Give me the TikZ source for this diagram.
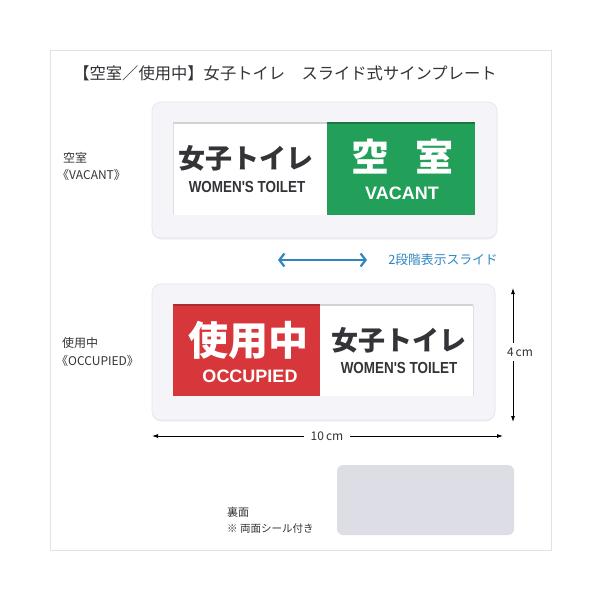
\documentclass[tikz,border=0pt]{standalone}
\usepackage{fontspec}
\setmainfont{Noto Sans CJK JP}
\newfontfamily\lat{Liberation Sans}
\usetikzlibrary{arrows.meta,shadows}
\definecolor{framegray}{HTML}{E2E2E2}
\definecolor{platefill}{HTML}{F4F4F9}
\definecolor{plateedge}{HTML}{E4E4EC}
\definecolor{signgreen}{HTML}{22A059}
\definecolor{signred}{HTML}{D7373B}
\definecolor{arrowblue}{HTML}{2E86C1}
\definecolor{inktext}{HTML}{333338}
\definecolor{backfill}{HTML}{DDDDE5}
\tikzset{
  box/.style={rectangle, inner sep=0pt, outer sep=0pt, anchor=north west},
  plate/.style={box, rounded corners=9pt, fill=platefill, draw=plateedge, line width=0.6pt,
    drop shadow={shadow xshift=0pt, shadow yshift=-1.5pt, opacity=0.12, fill=gray}},
  winwhite/.style={box, fill=white},
  wingreen/.style={box, fill=signgreen},
  winred/.style={box, fill=signred},
  recess/.style={draw=gray!35, line width=1.5pt},
  jpbig/.style={inner sep=0pt, text=inktext, font=\fontsize{27}{27}\selectfont\bfseries},
  jpwhite/.style={inner sep=0pt, text=white, font=\fontsize{38}{38}\selectfont\bfseries},
  entext/.style={inner sep=0pt, text=inktext, font=\lat\fontsize{16}{16}\selectfont\bfseries},
  enwhite/.style={inner sep=0pt, text=white, font=\lat\fontsize{18}{18}\selectfont\bfseries},
  sidelabel/.style={inner sep=0pt, anchor=west, text=inktext, font=\fontsize{12}{12}\selectfont},
  smalllabel/.style={inner sep=0pt, anchor=west, text=inktext, font=\fontsize{11}{11}\selectfont},
  dimline/.style={draw=black, line width=0.8pt, {Latex[length=6pt,width=4pt]}-{Latex[length=6pt,width=4pt]}},
  dimlabel/.style={fill=white, inner xsep=7pt, inner ysep=5pt, text=inktext, font=\fontsize{12}{12}\selectfont},
  bluearrow/.style={draw=arrowblue, line width=2.2pt, {Straight Barb[length=5pt,width=13pt]}-{Straight Barb[length=5pt,width=13pt]}},
  backplate/.style={box, rounded corners=6pt, fill=backfill}
}
\begin{document}
\begin{tikzpicture}[x=1pt,y=-1pt]
\useasboundingbox (0,0) rectangle (600,600);
\fill[white] (0,0) rectangle (600,600);
\draw[framegray, line width=1pt] (50,50) rectangle (551,550);

% title
\node[inner sep=0pt, text=inktext, font=\fontsize{16.3}{16.3}\selectfont] (title) at (285,73)
  {【空室／使用中】女子トイレ　スライド式サインプレート};

% top plate (vacant)
\node[plate, minimum width=345pt, minimum height=136pt] (p1) at (152,102) {};
\node[winwhite, minimum width=154pt, minimum height=92pt] (w1) at (173,123) {};
\node[wingreen, minimum width=148pt, minimum height=92pt] (g1) at (327,123) {};
\draw[recess] (w1.north west) -- (w1.north east);
\draw[draw=gray!25, line width=1pt] (w1.north west) -- (w1.south west);
\draw[draw=black!25!signgreen, line width=1.5pt] (g1.north west) -- (g1.north east);
\node[jpbig] (t1) at (246,158) {女子トイレ};
\node[entext] (e1) at (247,187) {\scalebox{0.84}[1]{WOMEN'S TOILET}};
\node[jpwhite] (k1) at (370,157) {空};
\node[jpwhite] (k2) at (434,157) {室};
\node[enwhite] (v1) at (402,193) {VACANT};

% slide arrow
\coordinate (a1) at (278,260);
\coordinate (a2) at (367,260);
\draw[bluearrow] (a1) -- (a2);
\node[inner sep=0pt, text=arrowblue, font=\fontsize{12.8}{12.8}\selectfont] (slide) at (443,260) {2段階表示スライド};

% bottom plate (occupied)
\node[plate, minimum width=343pt, minimum height=136pt] (p2) at (152,284) {};
\node[winred, minimum width=147pt, minimum height=91pt] (r2) at (173,305) {};
\node[winwhite, minimum width=153pt, minimum height=91pt] (w2) at (320,305) {};
\draw[recess] (w2.north west) -- (w2.north east);
\draw[draw=gray!25, line width=1pt] (w2.north east) -- (w2.south east);
\draw[draw=black!20!signred, line width=1.5pt] (r2.north west) -- (r2.north east);
\node[jpwhite, font=\fontsize{40}{40}\selectfont\bfseries] (u2) at (248,340) {使用中};
\node[enwhite] (o2) at (250,376) {OCCUPIED};
\node[jpbig] (t2) at (399,340) {女子トイレ};
\node[entext] (e2) at (399,368) {\scalebox{0.84}[1]{WOMEN'S TOILET}};

% dimensions
\coordinate (d1) at (513,288);
\coordinate (d2) at (513,422);
\draw[dimline] (d1) -- (d2);
\node[dimlabel, inner xsep=1pt] (dl1) at (520,352) {4\,cm};
\coordinate (h1) at (152,436);
\coordinate (h2) at (503,436);
\draw[dimline] (h1) -- (h2);
\node[dimlabel] (dl2) at (327,436) {10\,cm};

% side labels
\node[sidelabel] (s1) at (63,158) {空室};
\node[sidelabel] (s2) at (57,175) {《VACANT》};
\node[sidelabel] (s3) at (62,343) {使用中};
\node[sidelabel] (s4) at (56,361) {《OCCUPIED》};

% back side
\node[backplate, minimum width=177pt, minimum height=70pt] (bp) at (337,465) {};
\node[smalllabel] (b1) at (227,512) {裏面};
\node[smalllabel, font=\fontsize{10.5}{10.5}\selectfont] (b2) at (227,529) {※ 両面シール付き};
\end{tikzpicture}
\end{document}
